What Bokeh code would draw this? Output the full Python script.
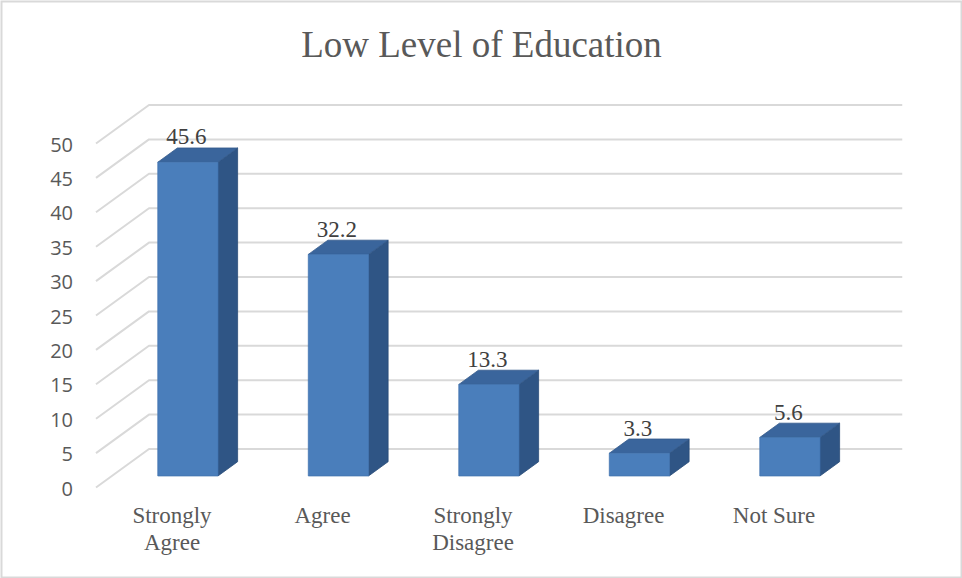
from bokeh.plotting import figure
from bokeh.models import Range1d, ColumnDataSource
from bokeh.core.properties import value
from bokeh.embed import file_html
from bokeh.resources import INLINE

# ---- data -------------------------------------------------------------
categories = ["Strongly\nAgree", "Agree", "Strongly\nDisagree", "Disagree", "Not Sure"]
percentages = [45.6, 32.2, 13.3, 3.3, 5.6]
y_ticks = [0, 5, 10, 15, 20, 25, 30, 35, 40, 45, 50]
title_text = "Low Level of Education"

# ---- layout (pixels) ----------------------------------------------------
W, H = 962, 578
CAT_PX = 150.5      # pixels between category centres
FIRST_PX = 171.5    # x pixel of the first category centre on the front plane
UNIT_PX = 6.88      # pixels per percentage point
ZERO_PX = 487.0     # y pixel (from top) of zero on the front plane
DEPTH_X_PX = 53.0   # oblique depth offset of the back wall
DEPTH_Y_PX = 38.5

x_start = -FIRST_PX / CAT_PX
x_end = (W - FIRST_PX) / CAT_PX
y_start = -(H - ZERO_PX) / UNIT_PX
y_end = ZERO_PX / UNIT_PX

DX = DEPTH_X_PX / CAT_PX     # depth shift in category units
DY = DEPTH_Y_PX / UNIT_PX    # depth shift in value units
D_FRONT, D_BACK = 0.30, 0.67  # depth of the bars' front and back faces
HALF_W = 0.2                  # half bar width, category units
WALL_L, WALL_R = -0.505, 4.5

FRONT_COLOR = "#4a7ebb"
TOP_COLOR = "#3a659c"
SIDE_COLOR = "#2f5585"
GRID_COLOR = "#d9d9d9"
SERIF = value("Liberation Serif")

p = figure(width=W, height=H, x_range=Range1d(x_start, x_end), y_range=Range1d(y_start, y_end),
           min_border=0, toolbar_location=None, output_backend="svg",
           x_axis_location=None, y_axis_location=None)
p.grid.visible = False
p.outline_line_color = None
p.background_fill_color = "white"
p.border_fill_color = "white"

# back wall gridlines, joined to the receding side-wall diagonals
grid_xs = [[WALL_L, WALL_L + DX, WALL_R + DX] for _ in y_ticks]
grid_ys = [[t, t + DY, t + DY] for t in y_ticks]
p.multi_line(grid_xs, grid_ys, line_color=GRID_COLOR, line_width=2)

# value labels on the front plane
p.text(x=[WALL_L] * len(y_ticks), y=y_ticks, text=[str(t) for t in y_ticks],
       x_offset=-23, y_offset=1, text_align="right", text_baseline="middle",
       text_font=value("Open Sans"), text_font_size="20px", text_color="#595959")

# 3-D bars: front, top and side faces
fx1, fy1 = D_FRONT * DX, D_FRONT * DY
fx2, fy2 = D_BACK * DX, D_BACK * DY
front_xs, front_ys, top_xs, top_ys, side_xs, side_ys = [], [], [], [], [], []
for i, v in enumerate(percentages):
    l, r = i - HALF_W, i + HALF_W
    front_xs.append([l + fx1, r + fx1, r + fx1, l + fx1])
    front_ys.append([fy1, fy1, v + fy1, v + fy1])
    top_xs.append([l + fx1, r + fx1, r + fx2, l + fx2])
    top_ys.append([v + fy1, v + fy1, v + fy2, v + fy2])
    side_xs.append([r + fx1, r + fx2, r + fx2, r + fx1])
    side_ys.append([fy1, fy2, v + fy2, v + fy1])

p.patches(side_xs, side_ys, fill_color=SIDE_COLOR, line_color="#2a4d79", line_width=0.8)
p.patches(top_xs, top_ys, fill_color=TOP_COLOR, line_color="#34598a", line_width=0.8)
p.patches(front_xs, front_ys, fill_color=FRONT_COLOR, line_color="#4275b0", line_width=0.8)

# data labels above each bar
lab = ColumnDataSource(dict(
    x=[i + fx1 - 0.01 for i in range(len(percentages))],
    y=[v + fy2 for v in percentages],
    t=[f"{v}" for v in percentages],
))
p.text(x="x", y="y", text="t", source=lab, y_offset=-11, text_align="center",
       text_baseline="middle", text_font=SERIF, text_font_size="23px",
       text_color="#404040")

# category labels under the floor
p.text(x=list(range(len(categories))), y=[0] * len(categories), text=categories,
       y_offset=15, text_align="center", text_baseline="top", text_line_height=1.08,
       text_font=SERIF, text_font_size="23px", text_color="#595959")

# chart title
p.text(x=[(x_start + x_end) / 2], y=[(ZERO_PX - 44) / UNIT_PX], text=[title_text],
       text_align="center", text_baseline="middle", text_font=SERIF,
       text_font_size="37px", text_color="#595959")

# light frame around the chart area
p.quad(left=[x_start], right=[x_end], bottom=[y_start], top=[y_end],
       fill_color=None, line_color=GRID_COLOR, line_width=4)

open("out.html", "w").write(file_html(p, INLINE))
